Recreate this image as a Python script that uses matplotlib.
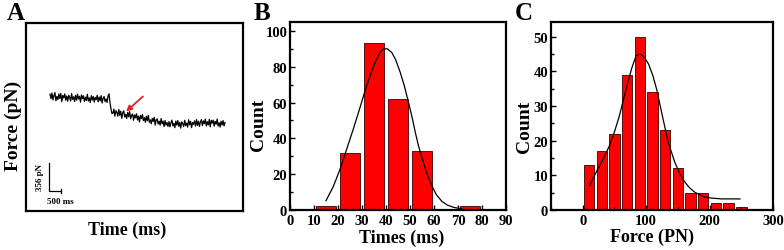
import numpy as np
import matplotlib
matplotlib.use("Agg")
import matplotlib.pyplot as plt
from matplotlib.ticker import MultipleLocator

plt.rcParams['font.family'] = ['Liberation Serif', 'DejaVu Serif']
plt.rcParams['font.weight'] = 'bold'

# ---------------- Panel A data (force trace) ----------------
trace_start_ms = 1051
trace_end_ms = 8712
trace_force = [
    1485, 1428, 1500, 1411, 1467, 1506, 1401, 1457, 1416, 1488,
    1431, 1494, 1390, 1469, 1437, 1489, 1408, 1462, 1394, 1471,
    1444, 1398, 1493, 1420, 1452, 1393, 1472, 1408, 1484, 1423,
    1457, 1383, 1476, 1427, 1465, 1394, 1447, 1405, 1484, 1398,
    1439, 1380, 1466, 1411, 1456, 1384, 1444, 1415, 1472, 1389,
    1449, 1400, 1467, 1373, 1434, 1455, 1390, 1425, 1380, 1460,
    1490, 1380, 1300, 1240,
    1243, 1296, 1206, 1275, 1256, 1205, 1291, 1216, 1269, 1179,
    1248, 1274, 1195, 1230, 1176, 1254, 1197, 1264, 1172, 1218,
    1234, 1154, 1222, 1184, 1236, 1157, 1205, 1132, 1215, 1175,
    1226, 1149, 1186, 1128, 1205, 1146, 1216, 1127, 1159, 1109,
    1177, 1138, 1191, 1092, 1159, 1170, 1106, 1142, 1091, 1175,
    1108, 1143, 1074, 1151, 1091, 1124, 1076,
    1137, 1070, 1121, 1156, 1082, 1114, 1060, 1143, 1092, 1150,
    1076, 1127, 1054, 1134, 1111, 1073, 1153, 1086, 1118, 1066,
    1159, 1095, 1140, 1060, 1124, 1102, 1146, 1079, 1162, 1089,
    1142, 1075, 1133, 1162, 1085, 1146, 1110, 1168, 1082, 1136,
    1094, 1165, 1069, 1152, 1117, 1155, 1078, 1139, 1104, 1168,
    1080, 1122, 1067, 1141, 1093, 1150, 1083, 1125,
]
scale_force_pN = 356
scale_time_ms = 500

# ---------------- Panel B data ----------------
times_centers = [15, 25, 35, 45, 55, 65, 75]
times_counts = [2, 32, 93, 62, 33, 0.6, 2]
times_fit_x = [15.0, 18.0, 20.9, 23.5, 26.4, 29.0, 31.3, 33.5, 35.5, 37.3, 38.9,
               40.6, 42.4, 44.0, 45.9, 47.5, 49.4, 51.0, 52.1, 53.5, 54.9,
               57.0, 59.1, 61.0, 63.3, 65.5, 68.1, 71.6]
times_fit_y = [5.2, 13.0, 22.9, 33.5, 45.3, 56.5, 66.7, 75.5, 82.5, 87.5, 90.0,
               90.0, 88.0, 84.0, 77.0, 70.0, 60.0, 51.0, 44.0, 36.0, 29.5,
               20.5, 13.5, 8.5, 4.8, 2.8, 1.5, 0.6]

# ---------------- Panel C data ----------------
force_centers = [10, 30, 50, 70, 90, 110, 130, 150, 170, 190, 210, 230, 250]
force_counts = [13, 17, 22, 39, 50, 34, 23, 12, 5, 5, 2, 2, 1]
force_fit_x = [10.5, 23.7, 33.0, 42.1, 50.0, 57.9, 64.5, 71.1, 77.5, 84.2, 90.5, 97.4,
               104.0, 110.5, 117.0, 124.3, 134.8, 145.3, 153.0, 161.1, 169.0,
               176.9, 192.7, 205.0, 219.0, 248.0]
force_fit_y = [7.0, 11.8, 15.0, 18.5, 22.5, 27.2, 32.0, 36.8, 41.0, 44.5, 45.0, 44.0,
               42.0, 38.8, 34.5, 28.2, 19.5, 13.7, 10.5, 8.0, 6.3,
               5.1, 3.7, 3.4, 3.2, 3.2]

W, H = 784, 251
fig = plt.figure(figsize=(W / 100, H / 100), dpi=100)


def ax_rect(x0, x1, ytop, ybot):
    return [x0 / W, 1 - ybot / H, (x1 - x0) / W, (ybot - ytop) / H]


def ftxt(x, y, s, **kw):
    fig.text(x / W, 1 - y / H, s, ha='center', va='center', fontweight='bold', **kw)


SPINE_LW = 1.6
TICK_FS = 10.5
LABEL_FS = 13

# ---- Panel A ----
axA = fig.add_axes(ax_rect(26, 243, 24, 212))
t = np.linspace(trace_start_ms, trace_end_ms, len(trace_force))
axA.plot(t, trace_force, color='black', lw=0.9)
axA.set_xlim(0, 9500)
axA.set_ylim(0, 2390)
axA.set_xticks([])
axA.set_yticks([])
for s in axA.spines.values():
    s.set_linewidth(SPINE_LW)
# scale bar
sb_x0, sb_y0 = 1020, 250
axA.plot([sb_x0, sb_x0, sb_x0 + scale_time_ms], [sb_y0 + scale_force_pN, sb_y0, sb_y0],
         color='black', lw=0.9)
axA.plot([sb_x0 + scale_time_ms] * 2, [sb_y0 - 25, sb_y0 + 25], color='black', lw=0.9)
axA.text(600, sb_y0 + scale_force_pN / 2 + 10, f'{scale_force_pN} pN', rotation=90,
         ha='center', va='center', fontsize=6.5, fontweight='bold')
axA.text(sb_x0 + 470, 131, f'{scale_time_ms} ms', ha='center', va='center',
         fontsize=6.5, fontweight='bold')
axA.annotate('', xy=(4290, 1242), xytext=(5210, 1479),
             arrowprops=dict(arrowstyle='-|>', color='#e8202a', lw=1.3,
                             mutation_scale=8))

ftxt(16, 13, 'A', fontsize=18)
ftxt(13, 126, 'Force (pN)', fontsize=LABEL_FS + 1, rotation=90)
ftxt(127, 230, 'Time (ms)', fontsize=LABEL_FS)

# ---- Panel B ----
axB = fig.add_axes(ax_rect(290, 506, 23, 211))
axB.bar(times_centers, times_counts, width=8.3, color='#ff0000',
        edgecolor='#3a0000', linewidth=0.6)
axB.plot(times_fit_x, times_fit_y, color='black', lw=0.9)
axB.set_xlim(0, 90)
axB.set_ylim(0, 105)
axB.xaxis.set_major_locator(MultipleLocator(10))
axB.yaxis.set_major_locator(MultipleLocator(20))
axB.yaxis.set_minor_locator(MultipleLocator(10))

# ---- Panel C ----
axC = fig.add_axes(ax_rect(551, 773, 23, 211))
axC.bar(force_centers, force_counts, width=16.5, color='#ff0000',
        edgecolor='#3a0000', linewidth=0.6)
axC.plot(force_fit_x, force_fit_y, color='black', lw=0.9)
axC.set_xlim(-50, 300)
axC.set_ylim(0, 54.2)
axC.xaxis.set_major_locator(MultipleLocator(100))
axC.xaxis.set_minor_locator(MultipleLocator(50))
axC.yaxis.set_major_locator(MultipleLocator(10))
axC.yaxis.set_minor_locator(MultipleLocator(5))

for ax in (axB, axC):
    for s in ax.spines.values():
        s.set_linewidth(SPINE_LW)
    ax.tick_params(which='both', direction='in', top=False, right=False,
                   labelsize=TICK_FS, width=1.0)
    ax.tick_params(axis='x', which='both', pad=3)
    ax.tick_params(axis='y', which='both', pad=2)
    ax.tick_params(which='major', length=3.5)
    ax.tick_params(which='minor', length=2)
    for lab in ax.get_xticklabels() + ax.get_yticklabels():
        lab.set_fontweight('bold')

ftxt(262, 13, 'B', fontsize=18)
ftxt(259, 125, 'Count', fontsize=LABEL_FS + 1, rotation=90)
ftxt(402, 238, 'Times (ms)', fontsize=LABEL_FS)

ftxt(524, 13, 'C', fontsize=18)
ftxt(524, 127, 'Count', fontsize=LABEL_FS + 1, rotation=90)
ftxt(652, 237, 'Force (PN)', fontsize=LABEL_FS)

fig.savefig('out.png', dpi=100)
